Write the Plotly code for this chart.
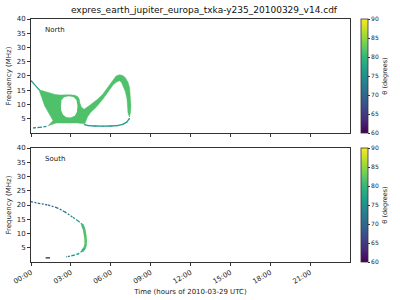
import plotly.graph_objects as go
from plotly.colors import sample_colorscale

TITLE = "expres_earth_jupiter_europa_txka-y235_20100329_v14.cdf"
hour_ticks = [0, 3, 6, 9, 12, 15, 18, 21]
hour_labels = ["00:00", "03:00", "06:00", "09:00", "12:00", "15:00", "18:00", "21:00"]
freq_ticks = [5, 10, 15, 20, 25, 30, 35, 40]
theta_ticks = [60, 65, 70, 75, 80, 85, 90]
THETA_MIN, THETA_MAX = 60, 90

# ---- North hemisphere (time in hours, frequency in MHz) ----
north_body_t = [0.62, 1.3, 1.8, 2.2, 2.5, 2.9, 3.3, 3.5, 3.62, 3.68, 3.8, 4.0,
                4.5, 5.0, 5.4, 5.8, 6.1, 6.4, 6.65, 6.9,
                7.1, 7.3, 7.42, 7.5, 7.52, 7.48, 7.4,
                7.3, 7.28, 7.22, 7.1, 6.95, 6.8, 6.65, 6.45,
                6.2, 5.8, 5.4, 4.9, 4.5, 4.25, 4.15, 4.05,
                3.5, 2.5, 1.9, 1.28,
                1.65, 1.52, 1.25, 1.03, 0.8, 0.62]
north_body_f = [15.2, 14.1, 13.5, 13.3, 13.35, 13.4, 13.2, 12.8, 12.0, 10.5, 9.0, 8.3,
                10.0, 11.8, 13.6, 16.2, 18.4, 20.0, 20.4, 20.2,
                19.4, 17.8, 15.8, 12.5, 9.5, 7.0, 5.6,
                7.0, 9.3, 12.0, 14.5, 16.5, 17.8, 18.3, 17.9,
                17.0, 14.2, 11.8, 9.0, 7.3, 5.6, 4.3, 3.2,
                3.5, 3.6, 3.5, 2.5,
                4.3, 5.5, 7.5, 9.5, 12.5, 14.8]
north_body_theta = 81.5

north_hole_t = [2.25, 2.3, 2.5, 2.85, 3.2, 3.42, 3.5, 3.45, 3.3, 3.0, 2.65, 2.4, 2.27, 2.25]
north_hole_f = [9.5, 11.5, 12.6, 12.9, 12.6, 11.6, 9.5, 7.4, 6.0, 5.4, 5.5, 6.5, 8.0, 9.5]

north_left_t = [0.0, 0.3, 0.65]
north_left_f = [18.4, 16.8, 15.0]
north_left_theta = [77, 77, 79]

north_low_t = [0.15, 0.6, 1.2]
north_low_f = [1.75, 1.95, 2.3]
north_low_theta = [74, 74, 75]

north_ret_t = [7.4, 7.2, 6.9, 6.5, 6.0, 5.4, 4.8, 4.3, 4.05]
north_ret_f = [5.0, 3.8, 3.0, 2.6, 2.45, 2.4, 2.45, 2.6, 2.9]
north_ret_theta = [77, 77, 77, 76, 76, 76, 76, 77, 77]

# ---- South hemisphere ----
south_t = [0.0, 0.55, 1.3, 1.93, 2.55, 3.18, 3.55, 3.85, 4.0, 4.1, 4.12, 4.05, 3.85, 3.55, 3.18, 2.68]
south_f = [21.2, 20.6, 20.0, 19.1, 17.6, 15.6, 14.4, 13.2, 11.4, 8.5, 6.5, 5.0, 3.8, 2.85, 2.3, 1.8]
south_theta = [69, 69, 70, 71, 72, 74, 76, 80, 81, 82, 82, 81, 79, 77, 75, 72]

south_purple_t = [1.1, 1.43]
south_purple_f = [1.45, 1.45]
south_purple_theta = [62, 62]


def col(theta):
    return sample_colorscale("Viridis", [(theta - THETA_MIN) / (THETA_MAX - THETA_MIN)])[0]


fig = go.Figure()

# North filled emission
fig.add_trace(go.Scatter(x=north_body_t, y=north_body_f, mode="lines", fill="toself",
                         fillcolor=col(north_body_theta), line=dict(width=0.5, color=col(north_body_theta)),
                         xaxis="x", yaxis="y", hoverinfo="skip", showlegend=False))
fig.add_trace(go.Scatter(x=north_hole_t, y=north_hole_f, mode="lines", fill="toself",
                         fillcolor="white", line=dict(width=0, color="white"),
                         xaxis="x", yaxis="y", hoverinfo="skip", showlegend=False))


def add_segments(ts, fs, th, xa, ya, thick_from=80, dash_thin="2px,1.5px"):
    for i in range(len(ts) - 1):
        m = (th[i] + th[i + 1]) / 2
        thick = m >= thick_from
        fig.add_trace(go.Scatter(x=[ts[i], ts[i + 1]], y=[fs[i], fs[i + 1]], mode="lines",
                                 line=dict(color=col(m), width=2.6 if thick else 1.3,
                                           dash="solid" if thick else dash_thin),
                                 xaxis=xa, yaxis=ya, hoverinfo="skip", showlegend=False))


add_segments(north_left_t, north_left_f, north_left_theta, "x", "y", thick_from=99, dash_thin="solid")
add_segments(north_low_t, north_low_f, north_low_theta, "x", "y", thick_from=99, dash_thin="3px,1.5px")
add_segments(north_ret_t, north_ret_f, north_ret_theta, "x", "y", thick_from=99, dash_thin="solid")

# colour-mapped markers (drive the north colorbar)
fig.add_trace(go.Scatter(x=north_ret_t, y=north_ret_f, mode="markers",
                         marker=dict(size=1.5, color=north_ret_theta, coloraxis="coloraxis"),
                         xaxis="x", yaxis="y", hoverinfo="skip", showlegend=False))

# South
add_segments(south_t, south_f, south_theta, "x2", "y2")
add_segments(south_purple_t, south_purple_f, south_purple_theta, "x2", "y2", thick_from=99, dash_thin="solid")
fig.add_trace(go.Scatter(x=south_t, y=south_f, mode="markers",
                         marker=dict(size=1.2, color=south_theta, coloraxis="coloraxis2"),
                         xaxis="x2", yaxis="y2", hoverinfo="skip", showlegend=False))

font = dict(family="DejaVu Sans", size=7, color="#222")
axis_common = dict(showline=True, mirror=True, linecolor="#333", linewidth=0.8,
                   ticks="outside", ticklen=3, tickwidth=0.8, tickcolor="#333",
                   showgrid=False, zeroline=False, tickfont=font, automargin=False)


def cbar(y, yanchor):
    return dict(colorscale="Viridis", cmin=THETA_MIN, cmax=THETA_MAX,
                colorbar=dict(x=1.034, xanchor="left", xpad=0, y=y, yanchor=yanchor, ypad=0,
                              len=0.469, lenmode="fraction", thickness=7,
                              outlinewidth=0.8, outlinecolor="#333",
                              tickvals=theta_ticks, ticks="outside", ticklen=2, tickcolor="#333",
                              tickfont=dict(family="DejaVu Sans", size=6, color="#222"),
                              title=dict(text="θ (degrees)", side="right",
                                         font=dict(family="DejaVu Sans", size=6.5, color="#222"))))


fig.update_layout(
    width=400, height=300,
    margin=dict(l=31, r=50, t=19, b=38, autoexpand=False),
    paper_bgcolor="white", plot_bgcolor="white",
    font=font,
    title=dict(text=TITLE, x=0.51, xref="container", xanchor="center",
               y=0.967, yref="container", yanchor="middle",
               font=dict(family="DejaVu Sans", size=9, color="#111")),
    xaxis=dict(domain=[0, 1], range=[0, 24], anchor="y", tickvals=hour_ticks,
               showticklabels=False, **axis_common),
    xaxis2=dict(domain=[0, 1], range=[0, 24], anchor="y2", matches="x", tickvals=hour_ticks,
                ticktext=hour_labels, tickangle=-30,
                title=dict(text="Time (hours of 2010-03-29 UTC)", font=font, standoff=4),
                **axis_common),
    yaxis=dict(domain=[0.531, 1], range=[0, 40], anchor="x", tickvals=freq_ticks,
               title=dict(text="Frequency (MHz)", font=font, standoff=4), **axis_common),
    yaxis2=dict(domain=[0, 0.469], range=[0, 40], anchor="x2", tickvals=freq_ticks,
                title=dict(text="Frequency (MHz)", font=font, standoff=4), **axis_common),
    coloraxis=cbar(1, "top"),
    coloraxis2=cbar(0, "bottom"),
    annotations=[
        dict(text="North", x=0.9, y=36.2, xref="x", yref="y", xanchor="left", yanchor="middle",
             showarrow=False, font=font),
        dict(text="South", x=0.9, y=36.2, xref="x2", yref="y2", xanchor="left", yanchor="middle",
             showarrow=False, font=font),
    ],
)

fig.write_html("out.html")
